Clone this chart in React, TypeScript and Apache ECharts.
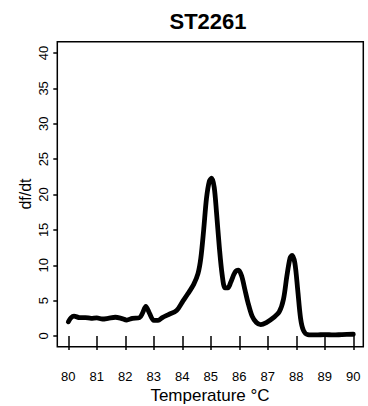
import React, { useEffect, useRef } from "react";
import * as echarts from "echarts";

// Melting curve derivative for ST2261
const temperatures = [
  80.0, 80.1, 80.2, 80.4, 80.6, 80.8, 81.0, 81.2, 81.4, 81.65, 81.85, 82.05,
  82.25, 82.5, 82.6, 82.72, 82.85, 83.0, 83.15, 83.3, 83.5, 83.8, 84.0, 84.2,
  84.4, 84.55, 84.65, 84.75, 84.85, 84.95, 85.03, 85.12, 85.2, 85.3, 85.4,
  85.5, 85.6, 85.7, 85.85, 85.97, 86.08, 86.2, 86.3, 86.45, 86.6, 86.75,
  86.95, 87.2, 87.4, 87.55, 87.67, 87.78, 87.85, 87.95, 88.05, 88.15, 88.25,
  88.4, 88.7, 89.0, 89.3, 89.6, 90.0,
];
const dfdt = [
  2.0, 2.6, 2.8, 2.6, 2.6, 2.5, 2.55, 2.4, 2.5, 2.65, 2.5, 2.25, 2.5, 2.6,
  3.2, 4.2, 3.2, 2.2, 2.2, 2.6, 3.0, 3.6, 4.8, 6.0, 7.3, 8.8, 11.0, 15.0,
  19.5, 21.9, 22.3, 21.0, 17.5, 12.5, 8.6, 6.8, 6.8, 7.6, 9.0, 9.3, 8.5, 6.5,
  4.8, 2.8, 1.9, 1.6, 1.9, 2.6, 3.4, 5.2, 8.5, 11.0, 11.4, 10.3, 6.5, 2.5,
  0.8, 0.2, 0.15, 0.2, 0.15, 0.2, 0.25,
];
const xTicks = [80, 81, 82, 83, 84, 85, 86, 87, 88, 89, 90];
const yTicks = [0, 5, 10, 15, 20, 25, 30, 35, 40];

const FONT = "Liberation Sans, Arial, sans-serif";

export default function App() {
  const ref = useRef<HTMLDivElement>(null);

  useEffect(() => {
    if (!ref.current) return;
    const chart = echarts.init(ref.current, null, { renderer: "svg" });
    const points = temperatures.map((t, i) => [t, dfdt[i]]);
    chart.setOption({
      animation: false,
      backgroundColor: "#fff",
      title: {
        text: "ST2261",
        left: 208,
        top: 10,
        padding: 0,
        textAlign: "center",
        textStyle: { fontFamily: FONT, fontSize: 22, fontWeight: "bold", color: "#000" },
      },
      grid: { left: 68.3, right: 14.7, top: 53, bottom: 70 },
      xAxis: {
        type: "value",
        min: xTicks[0],
        max: xTicks[xTicks.length - 1],
        interval: 1,
        offset: 11,
        axisLine: { show: false },
        splitLine: { show: false },
        axisTick: { show: true, length: 14, lineStyle: { color: "#000", width: 1.5 } },
        axisLabel: { margin: 23, fontFamily: FONT, fontSize: 13, color: "#000" },
      },
      yAxis: {
        type: "value",
        min: yTicks[0],
        max: yTicks[yTicks.length - 1],
        interval: 5,
        offset: 11,
        axisLine: { show: false },
        splitLine: { show: false },
        axisTick: { show: true, length: 4, lineStyle: { color: "#000", width: 1.5 } },
        axisLabel: { margin: 7, rotate: 90, fontFamily: FONT, fontSize: 13, color: "#000" },
      },
      graphic: [
        {
          type: "rect",
          shape: { x: 57.3, y: 41.7, width: 306, height: 305 },
          style: { fill: "none", stroke: "#000", lineWidth: 1.5 },
          silent: true,
        },
        {
          type: "text",
          x: 210,
          y: 395,
          style: {
            text: "Temperature °C",
            fontFamily: FONT,
            fontSize: 17,
            fill: "#000",
            textAlign: "center",
            textVerticalAlign: "middle",
          },
        },
        {
          type: "text",
          x: 25,
          y: 194,
          rotation: Math.PI / 2,
          style: {
            text: "df/dt",
            fontFamily: FONT,
            fontSize: 16,
            fill: "#000",
            textAlign: "center",
            textVerticalAlign: "middle",
          },
        },
      ],
      series: [
        {
          type: "line",
          data: points,
          showSymbol: false,
          smooth: 0.3,
          clip: false,
          lineStyle: { color: "#000", width: 4.8, cap: "round", join: "round" },
        },
      ],
    });
    return () => chart.dispose();
  }, []);

  return (
    <div
      ref={ref}
      style={{ position: "fixed", left: 0, top: 0, width: 368, height: 406 }}
    />
  );
}
